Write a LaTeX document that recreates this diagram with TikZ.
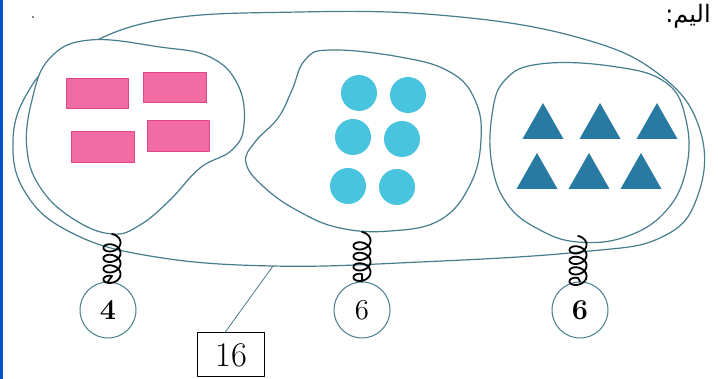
\documentclass[tikz,border=0pt]{standalone}
\usepackage{fontspec}
\usetikzlibrary{calc}
\newfontfamily\arabicfont[Script=Arabic]{DejaVu Sans}
\TeXXeTstate=1

\definecolor{loopline}{RGB}{70,125,140}
\definecolor{rectpink}{RGB}{240,108,162}
\definecolor{rectedge}{RGB}{222,72,138}
\definecolor{dotcyan}{RGB}{72,196,222}
\definecolor{triblue}{RGB}{40,122,162}

\tikzset{
  setline/.style={loopline,line width=0.6pt},
  weight/.style={circle,draw=loopline,line width=0.5pt,minimum size=28pt,inner sep=0pt,font=\Large},
  springline/.style={line width=0.9pt,black},
  totalbox/.style={draw,line width=0.5pt,minimum width=33.5pt,minimum height=22pt,inner sep=0pt,font=\LARGE},
}

% one spring: 4 loops hanging from a point down to a weight
\newcommand{\spring}[2]{%
  \draw[springline,shift={(#1)}]
    plot[domain=0:1440,samples=180,smooth] ({8.5*sin(\x)},{10.5*\x/360+6*(1-cos(\x))})
    -- (#2.north);}

\begin{document}
\begin{tikzpicture}[x=0.5pt,y=-0.5pt,line cap=round,line join=round]

\useasboundingbox (0,0) rectangle (718,379);

% -----------------------
% Scan edge and page text
% -----------------------
\fill[blue!60!cyan!80!black] (0,0) rectangle (2.5,379);
\fill[black] (33,17) circle (0.9);
\node[font=\large] (toptext) at (688,16) {\arabicfont\beginR اليم:\endR};

% -----------------------
% Outer loop
% -----------------------
\draw[setline] plot[smooth cycle,tension=0.7] coordinates {
  (60,62) (150,22) (300,12) (450,16) (580,38) (660,75) (700,130)
  (698,195) (662,237) (580,252) (420,262) (272,266) (150,256)
  (70,232) (25,192) (13,140) (28,92)};
\coordinate (c16) at (273,266);

% -----------------------
% Blob 1 : rectangles
% -----------------------
\draw[setline,fill=white] plot[smooth cycle,tension=0.7] coordinates {
  (90,40) (160,47) (210,57) (238,85) (244,125) (232,150) (200,168)
  (170,200) (140,225) (112,234) (75,220) (42,190) (27,150) (32,100) (50,58)};
\coordinate (s1) at (112,234);

\foreach \xa/\ya/\xb/\yb in {66/78/128/108, 143/72/206/102, 71/131/134/162, 147/120/209/151}
  \filldraw[fill=rectpink,draw=rectedge,line width=0.4pt] (\xa,\ya) rectangle (\xb,\yb);

% -----------------------
% Blob 2 : discs
% -----------------------
\draw[setline,fill=white] plot[smooth cycle,tension=0.7] coordinates {
  (330,50) (400,57) (450,72) (475,100) (481,140) (470,185) (440,220)
  (390,231) (340,228) (300,212) (265,188) (246,163) (255,142)
  (278,118) (292,90) (305,60)};
\coordinate (s2) at (362,232);

\foreach \cx/\cy in {359/93, 408/95, 353/137, 402/139, 348/186, 397/187}
  \fill[dotcyan] (\cx,\cy) circle (18);

% -----------------------
% Blob 3 : triangles
% -----------------------
\draw[setline,fill=white] plot[smooth cycle,tension=0.7] coordinates {
  (540,64) (610,66) (665,82) (686,120) (686,170) (665,212) (625,237)
  (578,242) (540,230) (508,205) (492,165) (492,115) (505,80)};
\coordinate (s3) at (578,236);

\foreach \tx/\ty in {543/139, 600/139, 657/139, 537/189, 589/189, 641/189}
  \fill[triblue] (\tx-20.5,\ty) -- (\tx+20.5,\ty) -- (\tx,\ty-36) -- cycle;

% -----------------------
% Weights on springs
% -----------------------
\node[weight] (w1) at (108,310) {\bfseries 4};
\node[weight] (w2) at (362,310) {6};
\node[weight] (w3) at (580,310) {\bfseries 6};

\spring{s1}{w1}
\spring{s2}{w2}
\spring{s3}{w3}

% -----------------------
% Total
% -----------------------
\node[totalbox] (total) at (231,355) {16};
\draw[setline,line width=0.4pt] (total.105) -- (c16);

\end{tikzpicture}
\end{document}
